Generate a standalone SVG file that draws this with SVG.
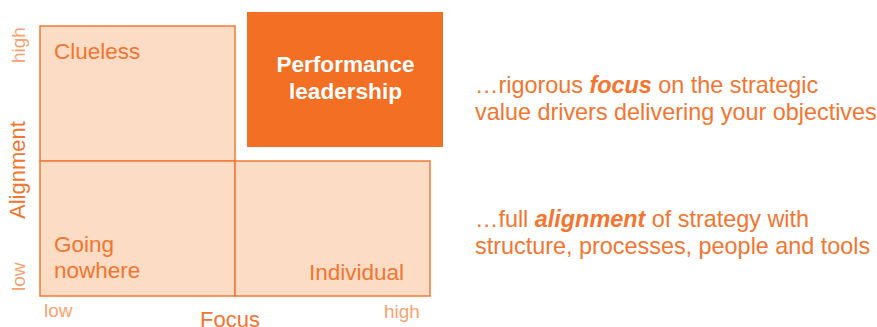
<svg xmlns="http://www.w3.org/2000/svg" width="877" height="327" viewBox="0 0 877 327">
<style>
text{font-family:"Liberation Sans",Arial,sans-serif;}
.cell{fill:#FCDCC5;stroke:#F47A36;stroke-width:1.5;}
.lbl{font-size:22.5px;fill:#F47530;}
.tick{font-size:19px;fill:#F8A270;}
.axis{font-size:22px;fill:#F47530;}
.desc{font-size:23.4px;fill:#F47530;}
</style>
<g id="clueless">
<rect class="cell" x="40" y="26" width="195" height="135"/>
<text class="lbl" x="54" y="59">Clueless</text>
</g>
<g id="going-nowhere">
<rect class="cell" x="40" y="161" width="195" height="135"/>
<text class="lbl" x="54" y="252">Going</text>
<text class="lbl" x="54" y="278">nowhere</text>
</g>
<g id="individual">
<rect class="cell" x="235" y="161" width="195" height="135"/>
<text class="lbl" x="309" y="280">Individual</text>
</g>
<g id="performance-leadership">
<rect x="247" y="12" width="196" height="135" fill="#F36F24"/>
<text x="345.5" y="72" text-anchor="middle" font-size="22.6" font-weight="bold" fill="#FFFFFF">Performance</text>
<text x="345.5" y="99" text-anchor="middle" font-size="22.6" font-weight="bold" fill="#FFFFFF">leadership</text>
</g>
<g id="axes">
<text class="tick" transform="translate(25,63) rotate(-90)">high</text>
<text class="axis" transform="translate(25,219) rotate(-90)">Alignment</text>
<text class="tick" transform="translate(25,291) rotate(-90)">low</text>
<text class="tick" x="44" y="317">low</text>
<text class="tick" x="384" y="318">high</text>
<text class="axis" x="200" y="327">Focus</text>
</g>
<g id="descriptions">
<text class="desc" x="475" y="93">…rigorous <tspan font-weight="bold" font-style="italic">focus</tspan> on the strategic</text>
<text class="desc" x="475" y="120">value drivers delivering your objectives</text>
<text class="desc" x="475" y="227">…full <tspan font-weight="bold" font-style="italic">alignment</tspan> of strategy with</text>
<text class="desc" x="475" y="254">structure, processes, people and tools</text>
</g>
<g id="connectors"/>
</svg>
